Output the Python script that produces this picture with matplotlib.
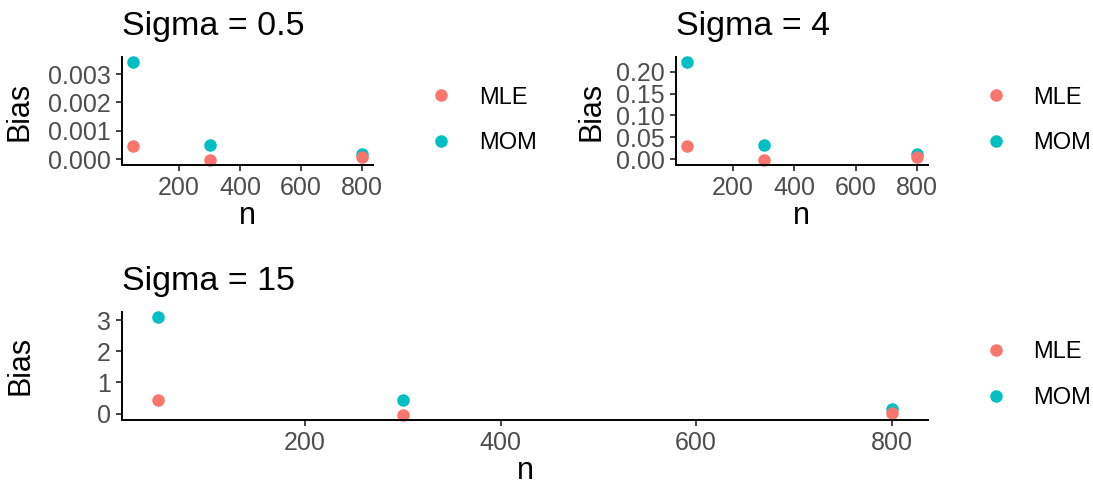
import numpy as np
import matplotlib.pyplot as plt
from matplotlib.lines import Line2D

plt.rcParams['font.family'] = ['Liberation Sans', 'DejaVu Sans']

n = [50, 300, 800]
titles = ['Sigma = 0.5', 'Sigma = 4', 'Sigma = 15']
mle = [[0.00047, -0.000035, 0.00006],
       [0.0305, -0.0023, 0.0039],
       [0.43, -0.03, 0.02]]
mom = [[0.003416, 0.000505, 0.000187],
       [0.2218, 0.0328, 0.0122],
       [3.10, 0.45, 0.14]]
yticks = [[0.0, 0.001, 0.002, 0.003],
          [0.0, 0.05, 0.10, 0.15, 0.20],
          [0, 1, 2, 3]]
yfmt = ['{:.3f}', '{:.2f}', '{:.0f}']
xticks = [200, 400, 600, 800]

col_mle = '#F8766D'
col_mom = '#00BFC4'

W, H = 1093, 484
fig = plt.figure(figsize=(W / 100, H / 100), dpi=100)

# panel boxes in pixels: left, top, right, bottom
boxes = [(122, 57.4, 373.4, 164.9),
         (675.7, 57.4, 928.2, 164.9),
         (121.7, 312, 928.3, 419.5)]
# legend: marker centre x, centre y
legpos = [(441, 120.5), (995.5, 120.5), (995.7, 375)]
# y label right edge x
ylab_x = [35, 606, 36]

for i in range(3):
    l, t, r, b = boxes[i]
    ax = fig.add_axes([l / W, 1 - b / H, (r - l) / W, (b - t) / H])
    ax.plot(n, mom[i], 'o', color=col_mom, ms=8, clip_on=False)
    ax.plot(n, mle[i], 'o', color=col_mle, ms=8, clip_on=False)
    ax.margins(0.05)
    for s in ['top', 'right']:
        ax.spines[s].set_visible(False)
    for s in ['left', 'bottom']:
        ax.spines[s].set_linewidth(1.4)
    ax.set_xticks(xticks)
    ax.set_yticks(yticks[i])
    ax.set_yticklabels([yfmt[i].format(v) for v in yticks[i]])
    ax.tick_params(length=4, width=1.3, color='#333333', labelcolor='#4D4D4D',
                   labelsize=18, pad=4)
    ax.set_title(titles[i], loc='left', fontsize=24.5, pad=16)
    ax.set_xlabel('n', fontsize=22, labelpad=1)
    ax.set_ylabel('Bias', fontsize=22)
    ax.yaxis.set_label_coords((ylab_x[i] - l) / (r - l), 0.5)

    handles = [Line2D([], [], ls='none', marker='o', ms=8, color=col_mle),
               Line2D([], [], ls='none', marker='o', ms=8, color=col_mom)]
    mx, my = legpos[i]
    fs = 17
    em = fs * 100 / 72
    ax.legend(handles, ['MLE', 'MOM'], loc='center left',
              bbox_to_anchor=((mx - em / 2) / W, 1 - my / H),
              bbox_transform=fig.transFigure, frameon=False, fontsize=fs,
              handlelength=1, handletextpad=1.1, labelspacing=1.0,
              borderpad=0, borderaxespad=0)

fig.savefig('out.png', dpi=100)
